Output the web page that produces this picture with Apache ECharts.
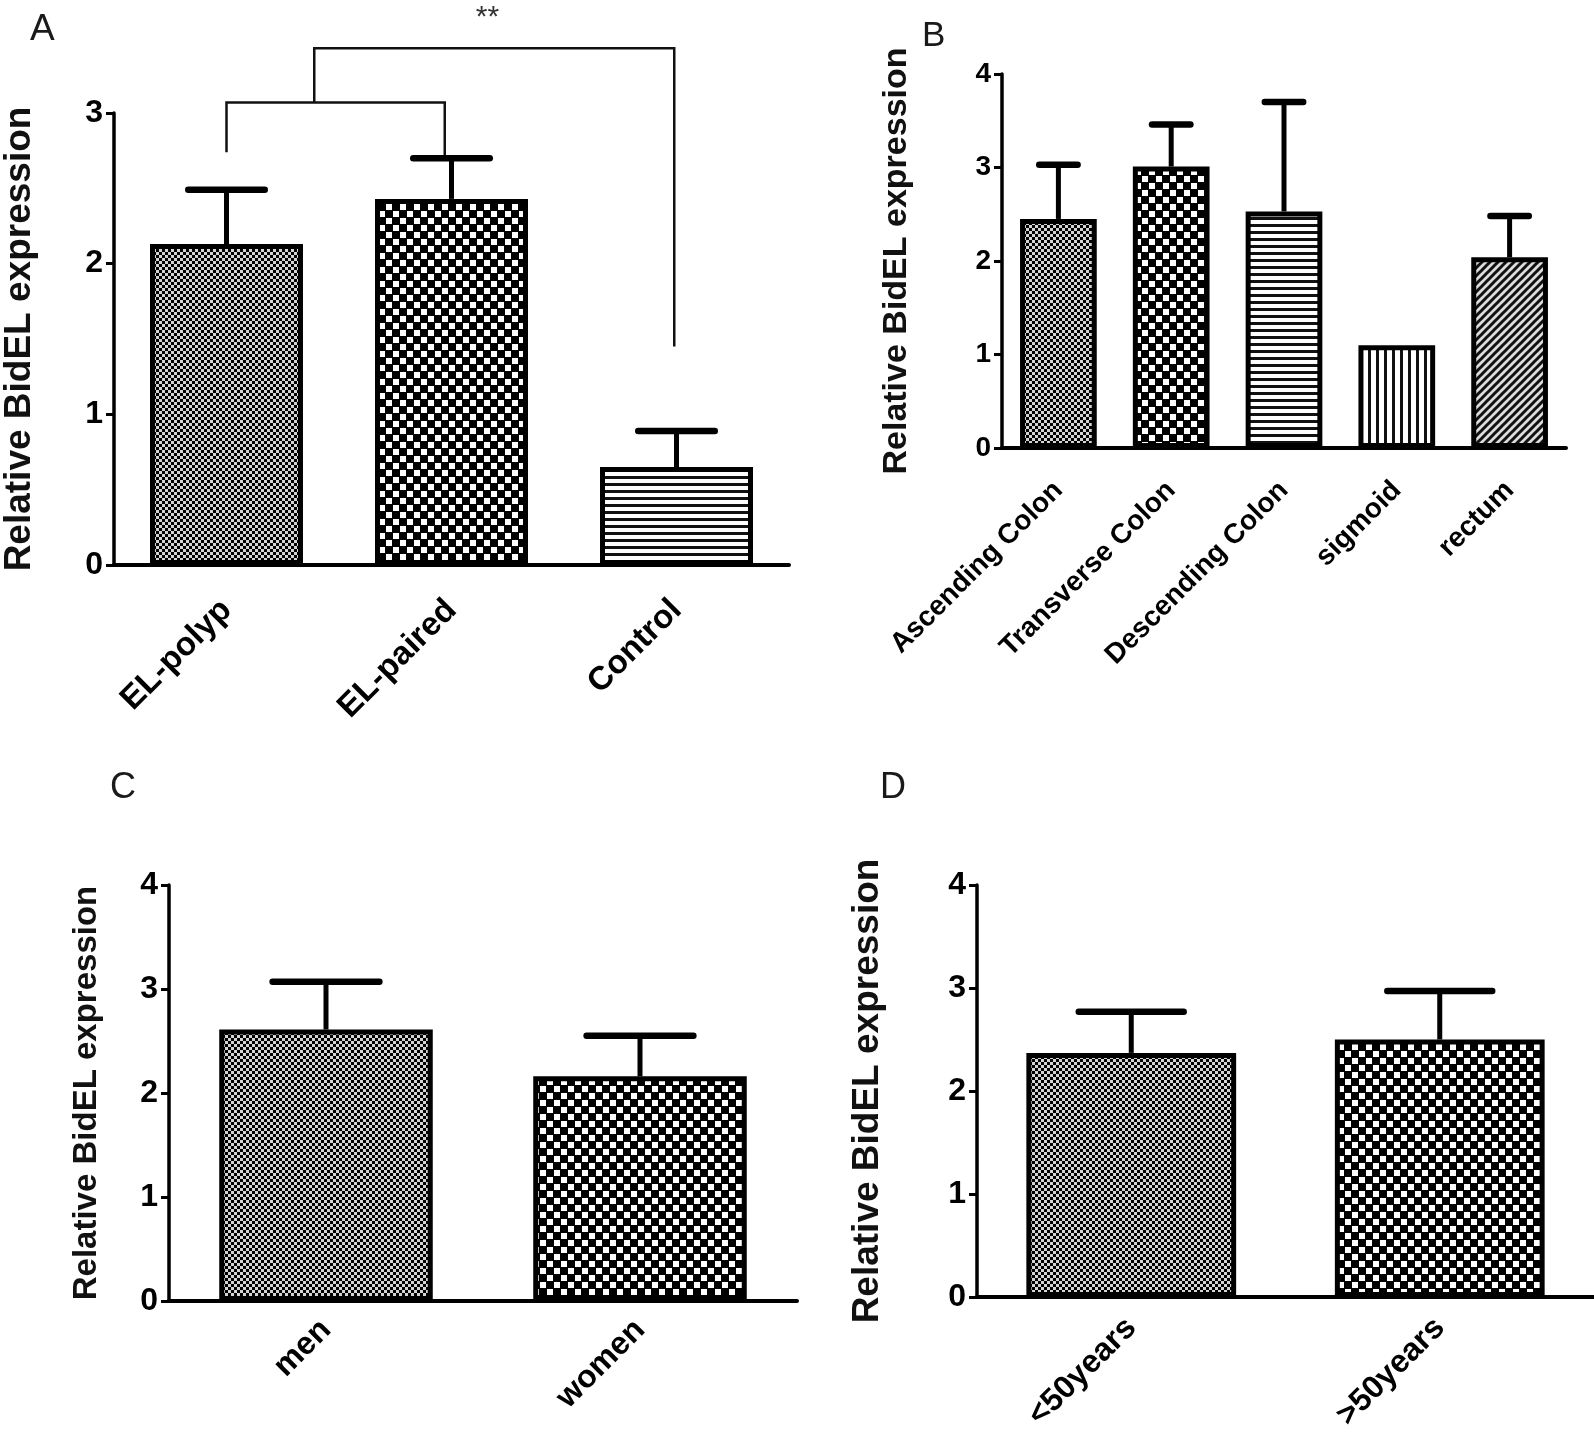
<!DOCTYPE html>
<html><head><meta charset="utf-8">
<script src="https://cdn.jsdelivr.net/npm/echarts@6/dist/echarts.min.js"></script>
<style>html,body{margin:0;padding:0;background:#fff}#c{width:1594px;height:1435px}</style>
</head><body><div id="c"></div>
<script>
// ---------------- DATA ----------------
const catsA = ['EL-polyp', 'EL-paired', 'Control'];
const meanA = [2.13, 2.43, 0.65];
const errA  = [0.36, 0.27, 0.24];

const catsB = ['Ascending Colon', 'Transverse Colon', 'Descending Colon', 'sigmoid', 'rectum'];
const meanB = [2.45, 3.01, 2.53, 1.10, 2.04];
const errB  = [0.58, 0.45, 1.17, 0, 0.44];

const catsC = ['men', 'women'];
const meanC = [2.61, 2.16];
const errC  = [0.46, 0.39];

const catsD = ['<50years', '>50years'];
const meanD = [2.37, 2.50];
const errD  = [0.40, 0.47];

const yMaxA = 3, yMaxBCD = 4;
const yTitle = 'Relative BidEL expression';

// significance bracket (panel A), in category / value units
const brLowX = [0, 0.97];      const brLowY = 3.07;  const brLowLegEnd = [2.74, 2.72];
const brHighX = [0.39, 1.99];  const brHighY = 3.43; const brHighLegEnd = [3.07, 1.45];
const starPos = [1.16, 3.63];  const starText = '**';

// ---------------- PATTERNS ----------------
function tile(w, h, draw) {
  const c = document.createElement('canvas'); c.width = w; c.height = h;
  const g = c.getContext('2d'); g.fillStyle = '#fff'; g.fillRect(0, 0, w, h); draw(g);
  return { image: c, repeat: 'repeat' };
}
const PAT = {
  dots: tile(6, 6, g => { g.fillStyle = '#000'; g.fillRect(0, 0, 6, 6); g.fillStyle = '#d4d4d4'; g.fillRect(0, 0, 3, 3); g.fillRect(3, 3, 3, 3); }),
  checker: tile(14, 14, g => { g.fillStyle = '#000'; g.fillRect(0, 0, 14, 14); g.fillStyle = '#fff'; g.fillRect(1, 1, 6, 6); g.fillRect(8, 8, 6, 6); }),
  hlines: tile(7, 7, g => { g.fillStyle = '#111'; g.fillRect(0, 0, 7, 3); }),
  vlines: tile(8, 8, g => { g.fillStyle = '#111'; g.fillRect(0, 0, 3, 8); }),
  diag: tile(8, 8, g => { g.fillStyle = '#ddd'; g.fillRect(0,0,8,8); g.strokeStyle = '#111'; g.lineWidth = 3; g.beginPath();
    g.moveTo(-2, 10); g.lineTo(10, -2); g.moveTo(-2, 2); g.lineTo(2, -2); g.moveTo(6, 10); g.lineTo(10, 6); g.stroke(); })
};
const patA = ['dots', 'checker', 'hlines'];
const patB = ['dots', 'checker', 'hlines', 'vlines', 'diag'];
const patC = ['dots', 'checker'];
const patD = ['dots', 'checker'];

// ---------------- CHART ----------------
const F = '"Liberation Sans", Arial, sans-serif';
const BAR_W = 0.68;

function errRender(params, api) {
  const i = api.value(0), m = api.value(1), e = api.value(2);
  if (!e) return null;
  const p0 = api.coord([i, m]), p1 = api.coord([i, m + e]);
  const cw = api.size([1, 0])[0] * BAR_W * 0.5;
  return { type: 'group', children: [
    { type: 'line', shape: { x1: p0[0], y1: p0[1], x2: p1[0], y2: p1[1] }, style: { stroke: '#000', lineWidth: 5 } },
    { type: 'line', shape: { x1: p1[0] - cw / 2, y1: p1[1], x2: p1[0] + cw / 2, y2: p1[1] }, style: { stroke: '#000', lineWidth: 6.5, lineCap: 'round' } }
  ]};
}

function bracketRender(params, api) {
  const x0 = api.coord([0, 0])[0], x1 = api.coord([1, 0])[0];
  const X = c => x0 + (x1 - x0) * c, Y = v => api.coord([0, v])[1];
  const st = { stroke: '#111', lineWidth: 2.5, fill: 'none' };
  return { type: 'group', children: [
    { type: 'polyline', shape: { points: [[X(brLowX[0]), Y(brLowLegEnd[0])], [X(brLowX[0]), Y(brLowY)], [X(brLowX[1]), Y(brLowY)], [X(brLowX[1]), Y(brLowLegEnd[1])]] }, style: st },
    { type: 'polyline', shape: { points: [[X(brHighX[0]), Y(brHighLegEnd[0])], [X(brHighX[0]), Y(brHighY)], [X(brHighX[1]), Y(brHighY)], [X(brHighX[1]), Y(brHighLegEnd[1])]] }, style: st },
    { type: 'text', x: X(starPos[0]), y: Y(starPos[1]), style: { text: starText, font: '30px ' + F, fill: '#333', align: 'center', verticalAlign: 'middle' } }
  ]};
}

function yAxis(k, max, o) {
  return { type: 'value', gridIndex: k, min: 0, max: max, interval: 1,
    name: yTitle, nameLocation: 'middle', nameGap: o.gap,
    nameTextStyle: { fontFamily: F, fontWeight: 'bold', fontSize: o.nameSize, color: '#111' },
    axisLine: { show: true, lineStyle: { color: '#000', width: 3.5 } },
    axisTick: { show: true, length: 8, lineStyle: { color: '#000', width: 3 } },
    axisLabel: { fontFamily: F, fontWeight: 'bold', fontSize: o.tickSize, color: '#000', margin: 11 },
    splitLine: { show: false } };
}
function xAxis(k, cats, o) {
  return { type: 'category', gridIndex: k, data: cats,
    axisLine: { lineStyle: { color: '#000', width: 4 } },
    axisTick: { alignWithLabel: true, length: 14, lineStyle: { color: '#000', width: 3.5 } },
    axisLabel: { rotate: 45, interval: 0, fontFamily: F, fontWeight: 'bold', fontSize: o.size, color: '#000', margin: o.margin } };
}
function barSeries(k, means, pats) {
  return { type: 'bar', xAxisIndex: k, yAxisIndex: k, barWidth: (BAR_W * 100) + '%',
    data: means.map((v, i) => ({ value: v, itemStyle: { color: PAT[pats[i]] } })),
    itemStyle: { borderColor: '#000', borderWidth: 5 }, emphasis: { disabled: true }, silent: true };
}
function errSeries(k, means, errs) {
  return { type: 'custom', xAxisIndex: k, yAxisIndex: k, renderItem: errRender, silent: true, z: 3,
    data: means.map((m, i) => [i, m, errs[i]]) };
}

const chart = echarts.init(document.getElementById('c'), null, { renderer: 'canvas' });
chart.setOption({
  animation: false,
  backgroundColor: '#fff',
  grid: [
    { left: 112, top: 113, width: 677, height: 452 },
    { left: 1002, top: 74, width: 564, height: 374 },
    { left: 169, top: 885, width: 628, height: 416 },
    { left: 977, top: 885, width: 628, height: 412 }
  ],
  xAxis: [
    xAxis(0, catsA, { size: 33, margin: 40 }),
    xAxis(1, catsB, { size: 28, margin: 38 }),
    xAxis(2, catsC, { size: 32, margin: 24 }),
    xAxis(3, catsD, { size: 32, margin: 26 })
  ],
  yAxis: [
    yAxis(0, yMaxA, { gap: 76, nameSize: 37, tickSize: 32 }),
    yAxis(1, yMaxBCD, { gap: 88, nameSize: 34, tickSize: 28 }),
    yAxis(2, yMaxBCD, { gap: 66, nameSize: 33, tickSize: 32 }),
    yAxis(3, yMaxBCD, { gap: 91, nameSize: 37, tickSize: 32 })
  ],
  series: [
    barSeries(0, meanA, patA), errSeries(0, meanA, errA),
    barSeries(1, meanB, patB), errSeries(1, meanB, errB),
    barSeries(2, meanC, patC), errSeries(2, meanC, errC),
    barSeries(3, meanD, patD), errSeries(3, meanD, errD),
    { type: 'custom', xAxisIndex: 0, yAxisIndex: 0, renderItem: bracketRender, clip: false, silent: true, data: [[0, 0]] }
  ],
  graphic: [
    { type: 'text', left: 30, top: 11, style: { text: 'A', font: '37px ' + F, fill: '#1a1a1a' } },
    { type: 'text', left: 922, top: 19, style: { text: 'B', font: '35px ' + F, fill: '#1a1a1a' } },
    { type: 'text', left: 110, top: 770, style: { text: 'C', font: '36px ' + F, fill: '#1a1a1a' } },
    { type: 'text', left: 880, top: 770, style: { text: 'D', font: '36px ' + F, fill: '#1a1a1a' } }
  ]
});
</script></body></html>
